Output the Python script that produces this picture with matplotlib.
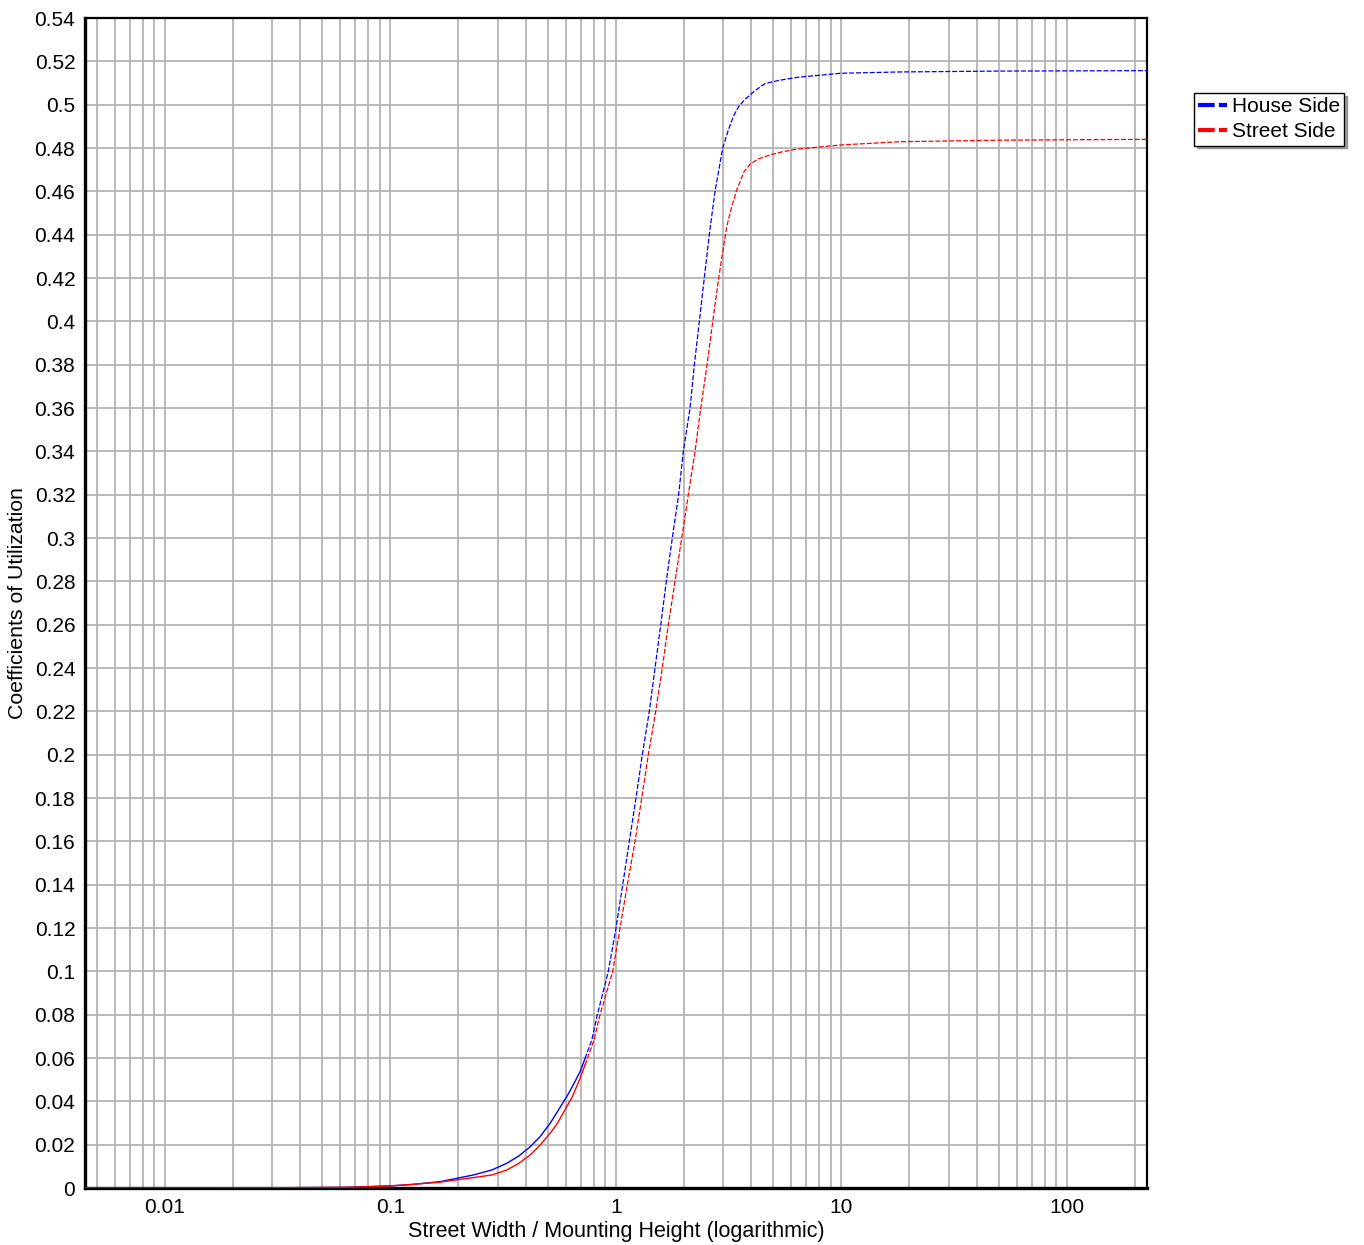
import matplotlib.pyplot as plt
from matplotlib.lines import Line2D
from matplotlib.ticker import FixedLocator, LogLocator, NullFormatter

plt.rcParams['font.family'] = ['Liberation Sans', 'DejaVu Sans']

# values
house_x = [0.0044, 0.01, 0.03, 0.064, 0.1, 0.122, 0.166, 0.2335, 0.282, 0.3286, 0.372, 0.417,
           0.462, 0.511, 0.551, 0.606, 0.642, 0.695, 0.731, 0.783,
           0.829, 0.927, 1.003, 1.074, 1.149, 1.23, 1.312, 1.409, 1.494, 1.584, 1.676, 1.782,
           1.901, 1.994, 2.136, 2.232, 2.349, 2.47, 2.60, 2.756, 2.982, 3.15, 3.323, 3.5, 3.707,
           4.15, 4.606, 5.35, 6.383, 9.95, 18.2, 50, 227]
house_y = [0.0, 0.00002, 0.0001, 0.0003, 0.001, 0.0015, 0.0029, 0.006, 0.0083, 0.0114, 0.0148, 0.019,
           0.0237, 0.0298, 0.0352, 0.0421, 0.0468, 0.0537, 0.0598, 0.0683,
           0.08, 0.10, 0.12, 0.14, 0.16, 0.18, 0.20, 0.22, 0.24, 0.26, 0.28, 0.30,
           0.32, 0.34, 0.36, 0.38, 0.40, 0.42, 0.44, 0.46, 0.48, 0.488, 0.4945, 0.499, 0.502,
           0.5065, 0.5098, 0.5113, 0.5126, 0.5145, 0.5151, 0.5155, 0.5157]

street_x = [0.0044, 0.01, 0.03, 0.064, 0.1, 0.166, 0.2335, 0.282, 0.3286, 0.372, 0.417, 0.462,
            0.511, 0.551, 0.606, 0.642, 0.695, 0.731, 0.801,
            0.852, 0.970, 1.045, 1.126, 1.218, 1.304, 1.395, 1.504, 1.609, 1.711, 1.832,
            1.962, 2.099, 2.248, 2.383, 2.541, 2.694, 2.862, 3.106, 3.27, 3.44, 3.707, 3.94,
            4.3, 4.84, 5.504, 6.383, 9.95, 18.2, 50, 227]
street_y = [0.0, 0.00002, 0.0001, 0.0003, 0.0009, 0.0027, 0.0048, 0.006, 0.0083, 0.0114, 0.0152, 0.0198,
            0.0252, 0.0298, 0.0375, 0.0421, 0.0506, 0.0568, 0.0683,
            0.08, 0.10, 0.12, 0.14, 0.16, 0.18, 0.20, 0.22, 0.24, 0.26, 0.28,
            0.30, 0.32, 0.34, 0.36, 0.38, 0.40, 0.42, 0.4437, 0.453, 0.4606, 0.469, 0.4725,
            0.475, 0.4768, 0.4783, 0.4795, 0.4814, 0.4829, 0.4836, 0.484]

series = [('House Side', house_x, house_y, '#0000ff'),
          ('Street Side', street_x, street_y, '#ff0000')]
y_ticks = [i * 0.02 for i in range(28)]

fig = plt.figure(figsize=(13.64, 12.45), dpi=100)
ax = fig.add_axes([85 / 1364, 57 / 1245, 1062 / 1364, 1170 / 1245])

for name, xs, ys, col in series:
    # low part looks solid, the steep part is drawn dashed
    k = next(i for i, v in enumerate(xs) if v > 0.7)
    ax.plot(xs[:k + 1], ys[:k + 1], color=col, lw=1.0, zorder=3)
    ax.plot(xs[k:], ys[k:], color=col, lw=0.9, dashes=(4, 1.5), zorder=3)

ax.set_xscale('log')
ax.set_xlim(0.00443, 227)
ax.set_ylim(0, 0.54)
ax.yaxis.set_major_locator(FixedLocator(y_ticks))
ax.set_yticklabels(['%g' % round(v, 2) for v in y_ticks])
ax.xaxis.set_major_locator(FixedLocator([0.01, 0.1, 1, 10, 100]))
ax.set_xticklabels(['0.01', '0.1', '1', '10', '100'])
ax.xaxis.set_minor_locator(LogLocator(base=10, subs=range(2, 10), numticks=20))
ax.xaxis.set_minor_formatter(NullFormatter())

ax.grid(True, which='both', color='#b4b4b4', lw=1.3, zorder=0)
ax.set_axisbelow(True)
ax.tick_params(which='both', length=0, labelsize=15, pad=7)

for side in ['top', 'right']:
    ax.spines[side].set_linewidth(1.6)
for side in ['left', 'bottom']:
    ax.spines[side].set_linewidth(2.4)

ax.set_xlabel('Street Width / Mounting Height (logarithmic)', fontsize=15.5, labelpad=3)
ax.set_ylabel('Coefficients of Utilization', fontsize=15.3, labelpad=5)

handles = [Line2D([], [], color=c, lw=3, dashes=(4, 1, 2, 1)) for _, _, _, c in series]
leg = fig.legend(handles, [s[0] for s in series], loc='upper left',
                 bbox_to_anchor=(1194 / 1364, 1 - 93 / 1245), fontsize=15,
                 frameon=True, fancybox=False, shadow=True, handlelength=1.4,
                 handletextpad=0.2, borderpad=0.2, labelspacing=0.3, borderaxespad=0)
leg.get_frame().set_edgecolor('black')
leg.get_frame().set_linewidth(1.0)

fig.savefig('out.png', dpi=100)
